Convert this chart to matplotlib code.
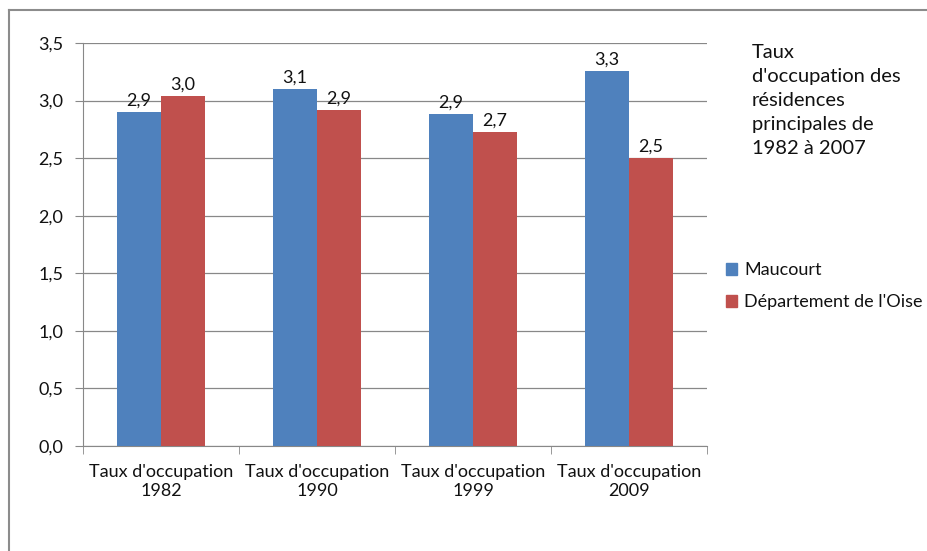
import numpy as np
import matplotlib
matplotlib.use("Agg")
import matplotlib.pyplot as plt
from matplotlib.patches import Rectangle
from matplotlib.lines import Line2D

plt.rcParams['font.family'] = ['Lato', 'DejaVu Sans']

categories = ["Taux d'occupation\n1982", "Taux d'occupation\n1990",
              "Taux d'occupation\n1999", "Taux d'occupation\n2009"]
maucourt = [2.90, 3.10, 2.88, 3.26]
oise = [3.04, 2.92, 2.73, 2.50]
series_names = ["Maucourt", "Département de l'Oise"]
title = "Taux\nd'occupation des\nrésidences\nprincipales de\n1982 à 2007"

blue = "#4F81BD"
red = "#C0504D"
grid_col = "#888888"
txt = "#111111"

fig = plt.figure(figsize=(9.28, 5.51), dpi=100)
ax = fig.add_axes([83/928, 105/551, (707-83)/928, (446-43)/551])

x = np.arange(len(categories))
w = 0.28
b1 = ax.bar(x - w/2, maucourt, w, color=blue, label=series_names[0], zorder=3)
b2 = ax.bar(x + w/2, oise, w, color=red, label=series_names[1], zorder=3)

def lbl(v):
    return ("%.1f" % v).replace(".", ",")

for bars, vals in ((b1, maucourt), (b2, oise)):
    for r, v in zip(bars, vals):
        ax.text(r.get_x() + r.get_width()/2, v + 0.03, lbl(v), ha='center',
                va='bottom', fontsize=13, color=txt)

ax.set_xlim(-0.5, len(categories) - 0.5)
ax.set_ylim(0, 3.5)
yt = np.arange(0, 3.51, 0.5)
ax.set_yticks(yt)
ax.set_yticklabels([lbl(v) for v in yt], fontsize=13, color=txt)
ax.yaxis.grid(True, color=grid_col, linewidth=0.9, zorder=0)
ax.tick_params(axis='y', length=6, color=grid_col, pad=8)

ax.set_xticks(x)
ax.set_xticklabels(categories, fontsize=13, color=txt, linespacing=1.25)
ax.set_xticks(np.arange(-0.5, len(categories)), minor=True)
ax.tick_params(axis='x', which='major', length=0, pad=13)
ax.tick_params(axis='x', which='minor', length=6, color=grid_col)

for s in ('top', 'right'):
    ax.spines[s].set_visible(False)
ax.spines['left'].set_color(grid_col)
ax.spines['bottom'].set_color(grid_col)

fig.text(752/928, 1 - 44/551, title, ha='left', va='top', fontsize=14.5,
         color=txt, linespacing=1.5)

handles = [Rectangle((0, 0), 1, 1, color=blue), Rectangle((0, 0), 1, 1, color=red)]
fig.legend(handles, series_names, loc='upper left',
           bbox_to_anchor=(710/928, 1 - 246/551), frameon=False, fontsize=13,
           handlelength=0.6, handleheight=0.6, handletextpad=0.4,
           labelspacing=0.9, labelcolor=txt)

# outer chart frame
fig.add_artist(Line2D([9/928, 9/928], [0, 1 - 10/551], transform=fig.transFigure,
                      color='#8c8c8c', linewidth=1.5))
fig.add_artist(Line2D([9/928, 1], [1 - 10/551, 1 - 10/551], transform=fig.transFigure,
                      color='#8c8c8c', linewidth=1.5))

fig.savefig("out.png", dpi=100)
